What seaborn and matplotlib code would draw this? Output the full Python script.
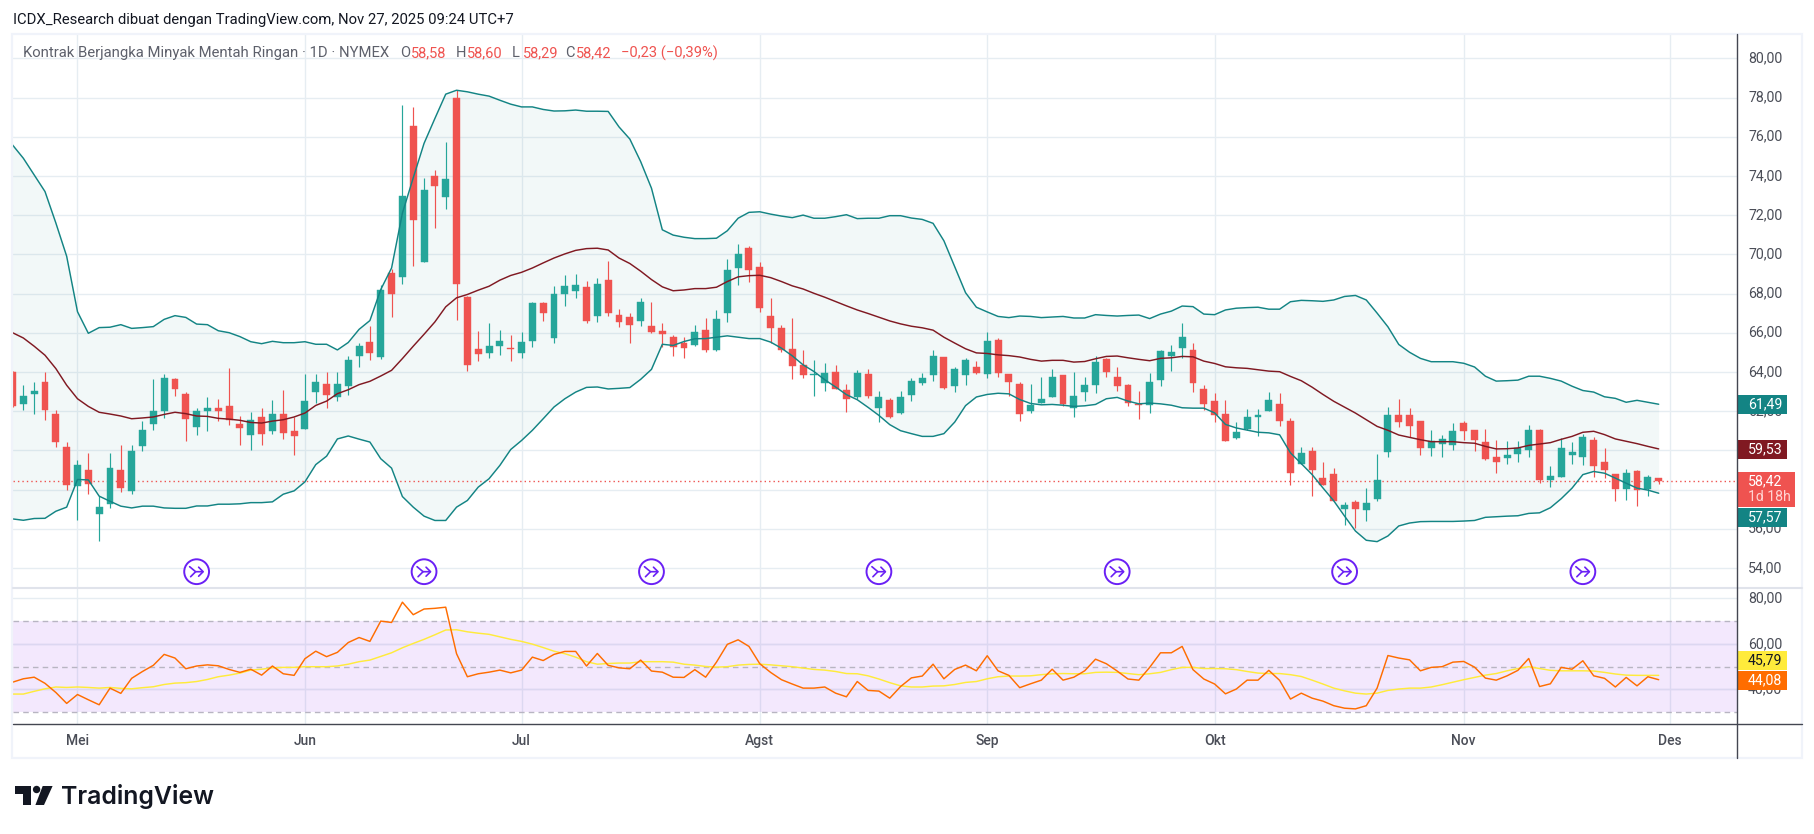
import pandas as pd
import seaborn as sns
import matplotlib.pyplot as plt
from matplotlib.patches import Circle, Polygon, Rectangle
from matplotlib.transforms import ScaledTranslation

# daily candles, bar -6 is the first one on the left, bar 0 is 1 Mei
opens = [64.00, 62.35, 62.86, 63.51, 61.87, 60.19,
         58.17, 59.02, 56.74, 57.25, 59.02, 57.91, 60.24, 61.36, 61.98, 63.66,
         62.89, 61.21, 61.98, 62.18, 62.28, 61.36, 60.80, 61.72, 61.01, 61.87,
         60.96, 61.11, 63.00, 63.40, 62.74, 63.30, 64.81, 65.51, 64.76, 69.07,
         68.86, 76.54, 69.63, 74.00, 72.93, 78.00, 67.80, 65.15, 64.95, 65.31,
         65.20, 64.95, 65.56, 67.54, 65.71, 67.95, 68.15, 68.31, 66.83, 68.71,
         66.88, 66.78, 66.58, 66.32, 66.07, 65.79, 65.48, 65.38, 66.15, 65.13,
         67.01, 69.30, 70.32, 69.35, 66.86, 66.25, 65.18, 64.36, 63.85, 63.45,
         64.01, 63.09, 62.73, 63.90, 62.17, 62.58, 61.92, 62.83, 63.45, 63.85,
         64.77, 63.29, 63.85, 64.26, 63.90, 65.64, 63.87, 63.36, 61.98, 62.39,
         62.70, 63.82, 62.18, 62.95, 63.31, 64.64, 63.72, 63.31, 62.34, 62.29,
         63.61, 64.79, 65.20, 65.10, 63.15, 62.49, 61.83, 60.65, 61.11, 61.72,
         62.03, 62.34, 61.52, 59.30, 59.97, 58.61, 58.81, 56.98, 57.34, 56.93,
         57.54, 59.93, 61.81, 61.81, 61.51, 60.14, 60.34, 60.29, 61.41, 61.05,
         60.44, 59.68, 59.63, 59.83, 60.03, 61.05, 58.46, 58.66, 59.78, 59.68,
         60.54, 59.42, 58.81, 58.05, 58.92, 58.05, 58.58]
highs = [64.05, 63.35, 63.46, 63.97, 62.08, 60.43,
         59.53, 59.88, 57.66, 59.88, 60.29, 60.29, 61.47, 63.66, 63.91, 63.71,
         62.95, 62.18, 62.74, 62.64, 64.22, 61.77, 61.93, 62.18, 62.59, 63.10,
         61.72, 63.91, 63.91, 63.97, 64.02, 64.83, 65.46, 66.32, 68.41, 69.27,
         77.61, 77.51, 73.90, 74.31, 75.73, 78.37, 67.85, 66.07, 66.47, 66.12,
         65.86, 66.02, 67.59, 67.59, 68.36, 68.92, 68.97, 68.66, 68.81, 69.68,
         67.19, 67.03, 67.75, 67.59, 66.47, 65.89, 65.77, 66.40, 66.76, 67.16,
         69.76, 70.53, 70.42, 69.61, 67.78, 66.40, 66.76, 65.13, 64.62, 64.47,
         64.36, 63.40, 64.11, 64.16, 63.04, 62.68, 63.04, 63.70, 63.96, 65.13,
         64.77, 64.26, 64.72, 64.57, 66.04, 65.74, 63.87, 63.51, 63.36, 63.72,
         64.13, 63.82, 64.02, 63.72, 64.79, 64.69, 64.23, 63.36, 63.05, 63.92,
         65.10, 65.35, 66.48, 65.45, 63.31, 62.90, 62.59, 61.42, 62.13, 62.13,
         62.95, 62.90, 61.67, 60.19, 60.17, 59.42, 59.12, 57.34, 57.44, 58.10,
         59.83, 62.22, 62.63, 62.17, 61.51, 61.05, 60.80, 61.41, 61.51, 61.05,
         61.10, 60.54, 60.49, 60.49, 61.31, 61.10, 59.22, 60.64, 60.44, 60.85,
         60.69, 60.14, 58.81, 59.07, 58.97, 58.76, 58.60]
lows = [62.20, 62.04, 61.84, 61.53, 60.16, 57.96,
        56.43, 57.76, 55.36, 57.04, 57.86, 57.76, 59.94, 61.06, 61.67, 62.79,
        60.50, 60.80, 61.01, 61.52, 61.31, 60.29, 60.04, 60.29, 60.85, 60.60,
        59.78, 61.11, 62.42, 62.18, 62.54, 62.84, 64.25, 64.61, 64.66, 66.78,
        68.51, 69.42, 69.59, 71.36, 72.32, 66.63, 64.03, 64.54, 64.69, 64.85,
        64.54, 64.69, 65.25, 66.58, 65.46, 67.34, 67.75, 66.47, 66.53, 66.83,
        66.27, 65.46, 66.32, 65.97, 65.25, 64.82, 64.72, 65.33, 65.03, 65.08,
        66.55, 68.44, 68.59, 67.06, 65.48, 65.03, 63.65, 63.70, 62.78, 63.04,
        63.11, 61.97, 62.63, 62.68, 61.46, 61.66, 61.87, 62.53, 63.34, 63.55,
        63.14, 62.99, 63.34, 63.90, 63.70, 63.75, 62.75, 61.47, 61.88, 62.39,
        62.70, 62.24, 61.72, 62.54, 62.90, 63.72, 63.05, 62.24, 61.62, 61.88,
        63.26, 64.07, 64.69, 63.00, 62.08, 61.42, 60.45, 60.60, 61.06, 60.75,
        62.03, 61.26, 58.25, 59.30, 57.69, 58.25, 57.43, 56.17, 56.02, 56.37,
        57.39, 59.68, 61.20, 60.69, 59.78, 59.73, 59.68, 60.03, 60.54, 59.98,
        59.53, 58.86, 59.32, 59.42, 59.68, 58.31, 58.15, 58.66, 59.32, 59.27,
        58.66, 58.61, 57.39, 57.44, 57.14, 57.69, 58.29]
closes = [62.25, 62.79, 63.05, 62.04, 60.41, 58.22,
          59.27, 58.27, 57.13, 59.12, 58.06, 59.94, 61.06, 61.98, 63.71, 63.15,
          61.62, 61.98, 62.18, 62.03, 61.57, 61.16, 61.57, 60.85, 61.87, 60.90,
          60.75, 62.54, 63.46, 62.84, 63.40, 64.63, 65.31, 64.95, 68.20, 68.00,
          72.98, 71.76, 73.29, 73.49, 73.85, 68.51, 64.34, 64.90, 65.31, 65.56,
          65.17, 65.51, 67.49, 66.98, 67.95, 68.36, 68.41, 66.58, 68.46, 66.98,
          66.53, 66.37, 67.59, 66.02, 65.92, 65.28, 65.23, 66.04, 65.13, 66.71,
          69.20, 70.02, 69.20, 67.27, 66.25, 65.13, 64.31, 63.85, 63.90, 63.96,
          63.14, 62.63, 63.96, 62.78, 62.73, 61.71, 62.73, 63.55, 63.70, 64.82,
          63.19, 64.16, 64.62, 63.96, 65.59, 63.96, 63.46, 61.83, 62.29, 62.64,
          63.72, 62.34, 62.75, 63.31, 64.53, 64.02, 63.26, 62.39, 62.29, 63.46,
          65.05, 65.00, 65.76, 63.41, 62.34, 61.78, 60.45, 60.91, 61.72, 61.78,
          62.59, 61.47, 58.86, 59.87, 59.00, 58.25, 57.43, 57.19, 56.98, 57.29,
          58.51, 61.81, 61.46, 61.25, 60.14, 60.49, 60.59, 61.00, 61.00, 60.54,
          59.58, 59.42, 59.78, 60.14, 61.05, 58.46, 58.71, 60.14, 59.93, 60.69,
          59.22, 58.97, 58.05, 58.86, 57.95, 58.66, 58.42]

# bollinger bands
bb_upper = [75.58, 74.9, 74.05, 73.2, 71.6, 69.9,
            67.07, 65.97, 66.26, 66.28, 66.41, 66.22, 66.26, 66.31, 66.68, 66.87,
            66.78, 66.44, 66.41, 66.1, 66.0, 65.8, 65.54, 65.44, 65.56, 65.49,
            65.49, 65.54, 65.41, 65.41, 65.12, 65.5, 66.17, 66.62, 68.2, 69.3,
            72.1, 73.9, 75.66, 76.93, 78.17, 78.37, 78.29, 78.17, 78.07, 77.86,
            77.66, 77.52, 77.52, 77.39, 77.31, 77.32, 77.36, 77.3, 77.3, 77.29,
            76.5, 75.88, 74.73, 73.37, 71.25, 70.98, 70.87, 70.8, 70.8, 70.82,
            71.2, 71.84, 72.14, 72.17, 72.05, 71.95, 71.87, 72.0, 71.84, 71.84,
            71.92, 72.02, 71.82, 71.84, 71.84, 71.97, 71.97, 71.85, 71.78, 71.58,
            70.69, 69.37, 68.04, 67.3, 67.06, 66.83, 66.77, 66.85, 66.83, 66.77,
            66.8, 66.83, 66.75, 66.75, 66.92, 66.88, 66.85, 66.88, 66.9, 66.72,
            66.95, 67.1, 67.36, 67.33, 66.95, 66.92, 67.16, 67.25, 67.28, 67.3,
            67.2, 67.2, 67.58, 67.65, 67.63, 67.6, 67.67, 67.85, 67.9, 67.67,
            67.0, 66.3, 65.4, 65.0, 64.69, 64.52, 64.52, 64.52, 64.44, 64.25,
            63.78, 63.53, 63.55, 63.58, 63.78, 63.78, 63.67, 63.53, 63.27, 63.05,
            62.97, 62.73, 62.65, 62.45, 62.55, 62.45, 62.35]
bb_basis = [66.0, 65.73, 65.31, 64.85, 64.17, 63.32,
            62.63, 62.24, 61.94, 61.85, 61.75, 61.61, 61.65, 61.7, 61.83, 61.94,
            61.87, 61.75, 61.73, 61.63, 61.59, 61.53, 61.42, 61.39, 61.49, 61.56,
            61.7, 61.9, 62.29, 62.51, 62.89, 63.09, 63.35, 63.52, 63.79, 64.08,
            64.68, 65.31, 65.92, 66.55, 67.32, 67.78, 67.95, 68.17, 68.37, 68.68,
            68.92, 69.08, 69.3, 69.56, 69.81, 70.02, 70.2, 70.29, 70.31, 70.22,
            69.81, 69.53, 69.14, 68.71, 68.34, 68.14, 68.18, 68.25, 68.25, 68.32,
            68.61, 68.85, 68.91, 68.93, 68.81, 68.61, 68.39, 68.23, 68.01, 67.81,
            67.59, 67.37, 67.16, 66.98, 66.79, 66.6, 66.45, 66.33, 66.25, 66.13,
            65.77, 65.47, 65.18, 64.97, 64.94, 64.87, 64.83, 64.76, 64.64, 64.55,
            64.59, 64.59, 64.5, 64.53, 64.67, 64.79, 64.81, 64.72, 64.64, 64.57,
            64.69, 64.72, 64.79, 64.77, 64.55, 64.43, 64.26, 64.21, 64.18, 64.11,
            64.04, 64.01, 63.77, 63.55, 63.22, 62.85, 62.5, 62.2, 61.9, 61.56,
            61.22, 61.02, 60.78, 60.66, 60.54, 60.44, 60.44, 60.44, 60.39, 60.36,
            60.2, 60.07, 60.08, 60.12, 60.25, 60.32, 60.39, 60.56, 60.71, 60.92,
            60.97, 60.8, 60.58, 60.46, 60.34, 60.2, 60.07]
bb_lower = [56.5, 56.43, 56.52, 56.53, 56.89, 57.1,
            58.51, 58.49, 57.66, 57.4, 57.15, 57.06, 57.15, 57.15, 57.06, 57.04,
            57.04, 57.16, 57.16, 57.25, 57.25, 57.27, 57.33, 57.33, 57.37, 57.76,
            57.93, 58.39, 59.27, 59.7, 60.58, 60.73, 60.57, 60.42, 59.57, 59.09,
            57.64, 57.1, 56.64, 56.42, 56.42, 57.1, 57.44, 58.12, 58.55, 59.23,
            60.04, 60.5, 61.02, 61.61, 62.21, 62.63, 62.97, 63.21, 63.23, 63.13,
            63.16, 63.2, 63.62, 64.13, 65.41, 65.35, 65.55, 65.69, 65.7, 65.77,
            65.84, 65.77, 65.7, 65.7, 65.52, 65.21, 64.82, 64.36, 64.02, 63.6,
            63.23, 62.84, 62.58, 62.19, 61.78, 61.31, 61.0, 60.85, 60.71, 60.71,
            60.85, 61.44, 62.28, 62.72, 62.85, 62.91, 62.88, 62.59, 62.39, 62.32,
            62.34, 62.3, 62.24, 62.27, 62.34, 62.63, 62.7, 62.51, 62.37, 62.41,
            62.37, 62.3, 62.17, 62.15, 62.15, 61.91, 61.32, 61.14, 61.03, 60.92,
            60.89, 60.79, 59.87, 59.32, 58.76, 58.08, 57.42, 56.64, 55.88, 55.41,
            55.34, 55.63, 56.14, 56.29, 56.36, 56.37, 56.37, 56.37, 56.39, 56.42,
            56.58, 56.61, 56.64, 56.66, 56.78, 56.81, 57.07, 57.53, 58.07, 58.76,
            58.92, 58.83, 58.58, 58.32, 58.07, 57.97, 57.81]

# rsi and its moving average
rsi = [43.2, 44.7, 45.4, 42.7, 38.7, 33.9,
       37.8, 35.5, 33.3, 40.6, 38.3, 44.9, 47.9, 50.6, 55.4, 53.8,
       49.1, 50.3, 50.8, 50.4, 48.8, 47.5, 48.9, 46.3, 50.3, 46.9,
       46.2, 53.5, 56.8, 54.4, 56.3, 60.6, 62.8, 61.1, 70.0, 69.4,
       78.3, 72.8, 75.3, 75.6, 76.1, 55.7, 45.6, 46.9, 47.6, 48.5,
       47.3, 48.5, 54.2, 52.7, 55.4, 56.7, 56.7, 50.3, 55.8, 50.6,
       49.5, 49.1, 52.9, 48.1, 47.6, 45.4, 45.3, 48.7, 45.4, 52.0,
       59.8, 61.8, 58.9, 51.3, 47.5, 44.3, 42.4, 40.6, 40.6, 41.1,
       38.4, 36.8, 43.5, 39.6, 39.3, 36.2, 41.3, 45.1, 45.9, 51.1,
       44.7, 48.8, 50.7, 48.2, 54.8, 48.2, 46.2, 40.8, 42.5, 44.1,
       48.9, 44.1, 45.4, 48.2, 53.3, 51.3, 48.1, 44.6, 44.1, 49.7,
       56.1, 56.1, 58.9, 48.7, 44.6, 42.4, 38.1, 40.2, 44.1, 44.1,
       48.4, 44.0, 35.8, 38.4, 36.2, 34.9, 32.9, 31.8, 31.5, 32.9,
       40.6, 54.9, 53.8, 53.0, 48.2, 49.7, 50.0, 52.0, 52.3, 49.8,
       45.0, 44.1, 46.0, 48.4, 53.6, 41.3, 42.5, 49.7, 48.9, 52.6,
       46.0, 44.9, 41.1, 45.3, 41.6, 45.6, 44.3]
rsi_ma = [38.0, 38.0, 39.2, 40.3, 41.1, 40.9,
          41.1, 40.9, 40.6, 40.9, 40.5, 40.3, 40.8, 41.2, 42.2, 42.8,
          43.0, 43.5, 44.4, 45.6, 46.3, 47.2, 48.5, 48.9, 49.5, 49.7,
          49.7, 50.0, 50.0, 50.0, 50.3, 51.1, 52.2, 52.9, 54.5, 56.1,
          58.3, 60.2, 62.0, 64.0, 66.1, 66.2, 65.3, 64.7, 64.2, 63.1,
          62.0, 61.1, 59.9, 58.4, 56.8, 55.7, 54.2, 52.2, 51.1, 51.4,
          51.6, 51.6, 52.2, 52.2, 52.2, 52.0, 51.1, 50.7, 50.1, 49.8,
          50.0, 50.7, 51.0, 51.1, 50.8, 50.4, 50.0, 49.4, 48.8, 48.5,
          47.9, 47.0, 46.9, 46.0, 44.6, 43.0, 41.6, 41.1, 41.1, 41.5,
          41.6, 42.2, 43.1, 43.5, 44.7, 45.6, 45.9, 45.9, 46.0, 46.5,
          46.9, 47.0, 46.9, 46.9, 47.5, 47.6, 47.5, 47.0, 46.5, 46.9,
          47.5, 48.7, 49.7, 49.7, 49.2, 49.2, 49.1, 48.7, 47.9, 47.2,
          47.0, 47.0, 46.5, 45.7, 44.1, 42.4, 40.6, 39.4, 38.4, 38.0,
          38.4, 39.6, 40.2, 40.6, 40.6, 41.1, 42.1, 43.2, 44.3, 45.3,
          46.3, 47.0, 48.2, 49.2, 50.0, 49.2, 48.4, 48.2, 48.2, 48.2,
          48.1, 47.5, 46.8, 46.3, 46.2, 46.2, 46.2]

# labels
month_labels = ['Mei', 'Jun', 'Jul', 'Agst', 'Sep', 'Okt', 'Nov', 'Des']
month_bars = [0, 21, 41, 63, 84, 105, 128, 147]
price_ticks = [54, 56, 58, 60, 62, 64, 66, 68, 70, 72, 74, 76, 78, 80]
rsi_ticks = [40, 60, 80]
rsi_band_lines = [40, 60]
rsi_dashed = [30, 50, 70]
rollover_bars = [11, 32, 53, 74, 96, 117, 139]
last_close = 58.42

GREEN = '#26a69a'
RED = '#ef5350'
TEAL = '#138484'
MAROON = '#801922'
GRID = '#e6edf2'
TEXT = '#4a4d57'
PURPLE = '#6a20f5'

W, H = 1815, 834
bar_px = 10.83
zero_px = 77.5
left_px, right_px = 13, 1737


def fig_rect(top, bottom):
    return [left_px / W, 1 - bottom / H, (right_px - left_px) / W, (bottom - top) / H]


def comma(v):
    return f'{v:.2f}'.replace('.', ',')


sns.set_theme(style='white')
plt.rcParams['font.family'] = ['Roboto', 'DejaVu Sans']

fig = plt.figure(figsize=(W / 100, H / 100), dpi=100, facecolor='white')
ax = fig.add_axes(fig_rect(34, 587))
ax_rsi = fig.add_axes(fig_rect(589, 724.3))

bars = list(range(-6, len(opens) - 6))
df = pd.DataFrame({
    'bar': bars, 'open': opens, 'high': highs, 'low': lows, 'close': closes,
    'upper': bb_upper, 'basis': bb_basis, 'lower': bb_lower,
    'rsi': rsi, 'rsi_ma': rsi_ma,
})
df['color'] = [GREEN if c >= o else RED for o, c in zip(df['open'], df['close'])]

xlim = ((left_px - zero_px) / bar_px, (right_px - zero_px) / bar_px)

# price pane
ax.fill_between(df['bar'], df['lower'], df['upper'], color=TEAL, alpha=0.05, lw=0, zorder=1)
ax.axhline(last_close, color=RED, lw=1, ls=(0, (1, 2.2)), zorder=2)
ax.vlines(df['bar'], df['low'], df['high'], colors=df['color'], lw=0.85, zorder=3)
ax.bar(df['bar'], (df['close'] - df['open']).abs(), width=0.64,
       bottom=df[['open', 'close']].min(axis=1), color=df['color'],
       edgecolor=df['color'], linewidth=0.3, zorder=4)
sns.lineplot(data=df, x='bar', y='upper', color=TEAL, lw=1.05, ax=ax, zorder=5)
sns.lineplot(data=df, x='bar', y='lower', color=TEAL, lw=1.05, ax=ax, zorder=5)
sns.lineplot(data=df, x='bar', y='basis', color=MAROON, lw=1.05, ax=ax, zorder=5)
ax.set_ylim(80 - (587 - 58.3) / 19.6, 80 + (58.3 - 34) / 19.6)
ax.set_yticks(price_ticks)
ax.set_yticklabels([comma(v) for v in price_ticks])

# rsi pane
ax_rsi.axhspan(30, 70, color='#8a1ff0', alpha=0.1, lw=0, zorder=1)
for level in rsi_band_lines:
    ax_rsi.axhline(level, color='#dcd7f1', lw=1, zorder=2)
for level in rsi_dashed:
    ax_rsi.axhline(level, color='#b8b5c2', lw=1, ls=(0, (4, 3)), zorder=2)
sns.lineplot(data=df, x='bar', y='rsi_ma', color='#ffeb3b', lw=1.05, ax=ax_rsi, zorder=4)
sns.lineplot(data=df, x='bar', y='rsi', color='#ff6d00', lw=1.05, ax=ax_rsi, zorder=5)
ax_rsi.set_ylim(80 - (724.3 - 598.3) / 2.28, 80 + (598.3 - 589) / 2.28)
ax_rsi.set_yticks(rsi_ticks)
ax_rsi.set_yticklabels([comma(v) for v in rsi_ticks])

# tick text sits a little above its gridline
lift = ScaledTranslation(0, 1.5 / 100, fig.dpi_scale_trans)

for a in (ax, ax_rsi):
    a.set_xlim(*xlim)
    a.set_xticks(month_bars)
    a.set_xlabel('')
    a.set_ylabel('')
    a.yaxis.tick_right()
    a.grid(True, color=GRID, lw=1)
    a.set_axisbelow(True)
    a.tick_params(axis='y', length=0, pad=8, labelsize=10.2, labelcolor=TEXT)
    a.tick_params(axis='x', length=0)
    a.patch.set_alpha(0)
    sns.despine(ax=a, left=True, right=True, top=True, bottom=True)
    for label in a.get_yticklabels():
        label.set_transform(label.get_transform() + lift)
ax.set_xticklabels([])
ax_rsi.set_xticklabels(month_labels, fontsize=10, color=TEXT, fontweight='medium')
ax_rsi.tick_params(axis='x', pad=7)

# everything outside the two panes goes on a pixel overlay
ov = fig.add_axes([0, 0, 1, 1], zorder=10)
ov.set_xlim(0, W)
ov.set_ylim(H, 0)
ov.axis('off')

# frame and separators
ov.add_patch(Rectangle((12.5, 33.5), 1790, 724.5, fill=False, ec='#f0f3fa', lw=1.6))
ov.plot([13, 1802], [588, 588], color='#e0e3eb', lw=1.5)
ov.plot([13, 1802], [724.3, 724.3], color='#434651', lw=1)
ov.plot([1737, 1737], [34, 758], color='#434651', lw=1)

# header and legend
ov.text(13, 20, 'ICDX_Research dibuat dengan TradingView.com, Nov 27, 2025 09:24 UTC+7',
        fontsize=10.75, color='#131722', va='center')
ov.text(23, 53, 'Kontrak Berjangka Minyak Mentah Ringan · 1D · NYMEX',
        fontsize=10.7, color='#5d606b', va='center')
for x_px, key, value in [(400, 'O', 58.58), (456, 'H', 58.60), (512, 'L', 58.29), (565, 'C', last_close)]:
    ov.text(x_px, 53, key, fontsize=10.5, color='#5d606b', va='center')
    ov.text(x_px + 10.5, 53, comma(value), fontsize=10.5, color=RED, va='center')
ov.text(621, 53, '−0,23 (−0,39%)', fontsize=10.6, color=RED, va='center')


# right-hand value tags
def tag(top, bottom, right, color, text, text_color='white'):
    ov.add_patch(Rectangle((1738, top), right - 1738, bottom - top, color=color, lw=0))
    ov.text(1748, (top + bottom) / 2, text, fontsize=10.2, color=text_color, va='center')


tag(395, 414, 1787, TEAL, '61,49')
tag(440, 459, 1787, MAROON, '59,53')
tag(472, 507, 1795, RED, '')
ov.text(1748, 481, comma(last_close), fontsize=10.2, color='white', va='center')
ov.text(1748, 497, '1d 18h', fontsize=10.2, color='#ffd3d2', va='center')
tag(508, 527, 1787, TEAL, '57,57')
tag(651, 670, 1787, '#ffeb3b', '45,79', '#131722')
tag(671, 690, 1787, '#ff6d00', '44,08')

# rollover markers
for b in rollover_bars:
    cx = zero_px + b * bar_px
    cy = 571.7
    ov.add_patch(Circle((cx, cy), 12.4, fc='white', ec=PURPLE, lw=1.4))
    ov.plot([cx - 7, cx - 1, cx + 6], [cy - 5, cy, cy], color=PURPLE, lw=1.2)
    ov.plot([cx - 6, cx - 1], [cy + 5, cy], color=PURPLE, lw=1.2)
    ov.plot([cx + 2, cx + 6.5, cx + 2], [cy - 4.5, cy, cy + 4.5], color=PURPLE, lw=1.2)

# logo
ink = '#131722'
ov.add_patch(Polygon([(15, 786), (31, 786), (31, 805), (23, 805), (23, 793.5), (15, 793.5)], color=ink, lw=0))
ov.add_patch(Circle((36.6, 789.5), 3.7, color=ink, lw=0))
ov.add_patch(Polygon([(42.7, 786), (52.6, 786), (44, 805), (35.4, 805)], color=ink, lw=0))
ov.text(61, 796.5, 'TradingView', family=['Inter', 'DejaVu Sans'], fontsize=17.9, fontweight='semibold',
        color=ink, va='center')

fig.savefig('out.png', dpi=100)
